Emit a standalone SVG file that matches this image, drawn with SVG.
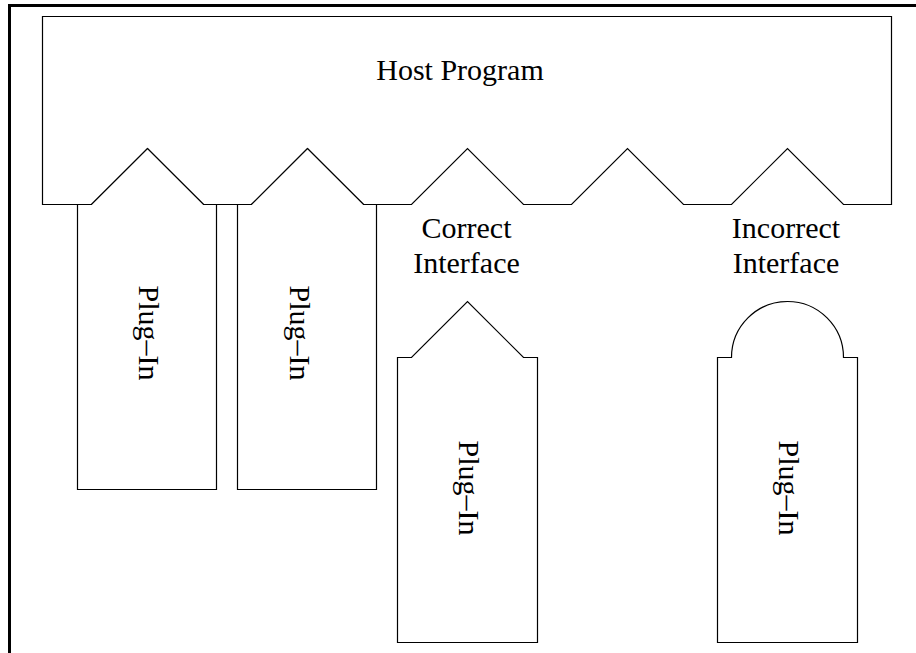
<svg xmlns="http://www.w3.org/2000/svg" width="916" height="653" viewBox="0 0 916 653">
<style>
.sh{fill:#fff;stroke:#000;stroke-width:1.2;stroke-linejoin:miter}
.t{font-family:"Liberation Serif","Times New Roman",serif;font-size:30px;fill:#000;text-anchor:middle}
</style>
<rect width="916" height="653" fill="#fff"/>
<path d="M9.5,653 V5.5 H916" fill="none" stroke="#000" stroke-width="3"/>
<g id="host">
<path class="sh" d="M42.5,204.5 V16.5 H891.5 V204.5 H843.5 L787.5,148.5 L731.5,204.5 H683.5 L627.5,148.5 L571.5,204.5 H523.5 L467.5,148.5 L411.5,204.5 H363.5 L307.5,148.5 L251.5,204.5 H203.5 L147.5,148.5 L91.5,204.5 Z"/>
<text class="t" x="460" y="80">Host Program</text>
</g>
<g id="plugin1">
<path class="sh" d="M77.5,489.5 V204.5 H91.5 L147.5,148.5 L203.5,204.5 H216.5 V489.5 Z"/>
<text class="t" transform="translate(139,333) rotate(90)">Plug–In</text>
</g>
<g id="plugin2">
<path class="sh" d="M237.5,489.5 V204.5 H251.5 L307.5,148.5 L363.5,204.5 H376.5 V489.5 Z"/>
<text class="t" transform="translate(290,333) rotate(90)">Plug–In</text>
</g>
<g id="correct-label">
<text class="t" x="466.5" y="238">Correct</text>
<text class="t" x="466.5" y="273">Interface</text>
</g>
<g id="plugin3">
<path class="sh" d="M397.5,642.5 V357.5 H411.5 L467.5,301.5 L523.5,357.5 H537.5 V642.5 Z"/>
<text class="t" transform="translate(459,488) rotate(90)">Plug–In</text>
</g>
<g id="incorrect-label">
<text class="t" x="786" y="238">Incorrect</text>
<text class="t" x="786" y="273">Interface</text>
</g>
<g id="plugin4">
<path class="sh" d="M717.5,642.5 V357.5 H731.5 A56,56 0 0 1 843.5,357.5 H857.5 V642.5 Z"/>
<text class="t" transform="translate(779,488) rotate(90)">Plug–In</text>
</g>
<g id="connectors"></g>
</svg>
